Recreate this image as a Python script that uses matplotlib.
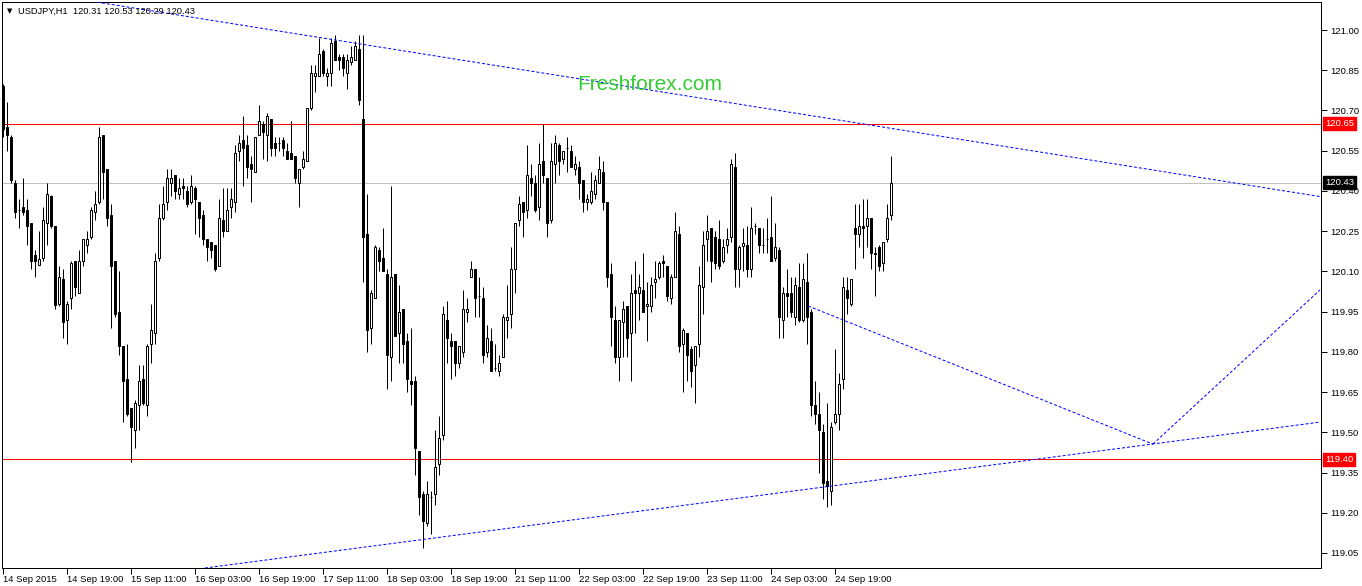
import numpy as np
import matplotlib
matplotlib.use("Agg")
import matplotlib.pyplot as plt


# USDJPY H1 candles (open, high, low, close)
opens = [
    120.79, 120.64, 120.60, 120.43, 120.33, 120.34, 120.33, 120.28, 120.16, 120.125,
    120.15, 120.28, 120.38, 120.27, 119.98, 120.07, 119.92, 120.00, 120.14, 120.02,
    120.14, 120.20, 120.23, 120.32, 120.36, 120.61, 120.48, 120.31, 120.14, 119.95,
    119.82, 119.70, 119.59, 119.51, 119.60, 119.70, 119.60, 119.83, 119.87, 120.15,
    120.30, 120.36, 120.43, 120.46, 120.39, 120.42, 120.40, 120.36, 120.41, 120.36,
    120.31, 120.22, 120.21, 120.20, 120.12, 120.29, 120.25, 120.34, 120.36, 120.55,
    120.59, 120.57, 120.50, 120.47, 120.61, 120.65, 120.61, 120.67, 120.58, 120.58,
    120.59, 120.55, 120.54, 120.53, 120.43, 120.49, 120.51, 120.71, 120.83, 120.83,
    120.92, 120.83, 120.84, 120.96, 120.90, 120.90, 120.84, 120.88, 120.89, 120.93,
    120.67, 120.24, 119.89, 120.00, 120.18, 120.15, 120.09, 119.78, 120.09, 119.87,
    119.96, 119.84, 119.69, 119.69, 119.43, 119.27, 119.16, 119.26, 119.27, 119.38,
    119.49, 119.92, 119.84, 119.84, 119.76, 119.80, 119.95, 120.08, 120.11, 120.01,
    120.00, 119.80, 119.84, 119.74, 119.73, 119.78, 119.92, 119.94, 120.11, 120.29,
    120.36, 120.33, 120.45, 120.43, 120.34, 120.51, 120.45, 120.29, 120.50, 120.57,
    120.52, 120.56, 120.55, 120.48, 120.49, 120.44, 120.36, 120.36, 120.39, 120.43,
    120.47, 120.36, 120.09, 119.92, 119.78, 119.91, 119.97, 119.87, 120.03, 120.02,
    120.03, 119.97, 119.97, 120.06, 120.08, 120.14, 120.12, 120.00, 120.08, 120.24,
    119.83, 119.87, 119.81, 119.75, 119.83, 120.04, 120.22, 120.26, 120.23, 120.22,
    120.14, 120.20, 120.23, 120.49, 120.11, 120.195, 120.20, 120.11, 120.27, 120.26,
    120.20, 120.22, 120.23, 120.15, 120.18, 119.92, 120.02, 120.02, 119.93, 120.04,
    119.92, 120.06, 119.95, 119.60, 119.57, 119.50, 119.32, 119.28, 119.54, 119.57,
    119.70, 120.03, 119.98, 120.26, 120.24, 120.27, 120.27, 120.30, 120.17, 120.19,
    120.13, 120.22, 120.31,
]
highs = [
    120.80, 120.73, 120.61, 120.44, 120.37, 120.45, 120.37, 120.28, 120.18, 120.25,
    120.34, 120.43, 120.385, 120.27, 120.12, 120.11, 119.99, 120.14, 120.14, 120.18,
    120.22, 120.25, 120.34, 120.40, 120.64, 120.61, 120.48, 120.35, 120.14, 120.10,
    119.82, 119.83, 119.59, 119.62, 119.75, 119.75, 119.83, 119.98, 120.17, 120.35,
    120.42, 120.48, 120.48, 120.46, 120.45, 120.45, 120.42, 120.46, 120.42, 120.36,
    120.33, 120.22, 120.21, 120.20, 120.37, 120.41, 120.41, 120.41, 120.57, 120.61,
    120.68, 120.61, 120.53, 120.60, 120.72, 120.66, 120.69, 120.67, 120.60, 120.60,
    120.60, 120.58, 120.66, 120.53, 120.48, 120.55, 120.71, 120.87, 120.87, 120.97,
    120.93, 120.86, 120.97, 120.98, 120.91, 120.91, 120.91, 120.94, 120.96, 120.98,
    120.98, 120.39, 120.03, 120.20, 120.19, 120.26, 120.11, 120.42, 120.09, 120.05,
    119.96, 119.87, 119.89, 119.71, 119.43, 119.28, 119.32, 119.28, 119.51, 119.56,
    119.97, 119.99, 119.87, 119.84, 119.82, 120.03, 120.00, 120.14, 120.11, 120.08,
    120.04, 119.90, 119.89, 119.83, 119.79, 119.94, 120.05, 120.19, 120.28, 120.38,
    120.36, 120.57, 120.50, 120.46, 120.58, 120.65, 120.45, 120.58, 120.61, 120.58,
    120.55, 120.60, 120.57, 120.53, 120.51, 120.44, 120.39, 120.47, 120.46, 120.53,
    120.51, 120.36, 120.13, 119.97, 119.92, 119.99, 119.97, 120.09, 120.14, 120.09,
    120.17, 120.06, 120.08, 120.14, 120.14, 120.16, 120.12, 120.09, 120.32, 120.27,
    119.89, 119.87, 119.82, 119.82, 120.12, 120.25, 120.31, 120.26, 120.25, 120.29,
    120.22, 120.26, 120.52, 120.54, 120.20, 120.26, 120.27, 120.34, 120.28, 120.26,
    120.26, 120.30, 120.38, 120.28, 120.19, 120.04, 120.11, 120.08, 120.08, 120.13,
    120.13, 120.17, 119.96, 119.69, 119.65, 119.53, 119.61, 119.54, 119.81, 119.72,
    120.08, 120.08, 120.07, 120.35, 120.35, 120.37, 120.37, 120.30, 120.19, 120.20,
    120.21, 120.35, 120.53,
]
lows = [
    120.60, 120.55, 120.43, 120.30, 120.26, 120.31, 120.20, 120.11, 120.08, 120.125,
    120.14, 120.20, 120.26, 119.96, 119.97, 119.85, 119.83, 119.96, 120.01, 120.02,
    120.12, 120.17, 120.22, 120.29, 120.35, 120.37, 120.27, 119.89, 119.93, 119.79,
    119.54, 119.56, 119.39, 119.44, 119.51, 119.60, 119.56, 119.76, 119.83, 120.14,
    120.29, 120.33, 120.38, 120.37, 120.37, 120.37, 120.34, 120.35, 120.24, 120.23,
    120.20, 120.14, 120.15, 120.10, 120.12, 120.23, 120.25, 120.30, 120.32, 120.51,
    120.42, 120.45, 120.36, 120.47, 120.61, 120.52, 120.51, 120.53, 120.53, 120.55,
    120.53, 120.52, 120.52, 120.43, 120.34, 120.48, 120.51, 120.70, 120.77, 120.83,
    120.83, 120.79, 120.79, 120.89, 120.85, 120.83, 120.78, 120.87, 120.89, 120.72,
    120.06, 119.80, 119.83, 120.00, 120.10, 120.10, 119.66, 119.69, 119.86, 119.76,
    119.76, 119.65, 119.60, 119.34, 119.19, 119.07, 119.15, 119.12, 119.23, 119.34,
    119.47, 119.76, 119.70, 119.71, 119.74, 119.78, 119.91, 120.08, 119.93, 119.93,
    119.76, 119.78, 119.73, 119.73, 119.71, 119.78, 119.85, 119.89, 120.02, 120.27,
    120.23, 120.30, 120.38, 120.32, 120.29, 120.43, 120.23, 120.28, 120.43, 120.46,
    120.50, 120.47, 120.49, 120.46, 120.37, 120.32, 120.33, 120.35, 120.37, 120.43,
    120.33, 120.04, 119.82, 119.76, 119.69, 119.78, 119.78, 119.69, 119.87, 119.92,
    119.95, 119.84, 119.95, 120.00, 120.07, 120.08, 119.99, 119.98, 120.08, 119.80,
    119.65, 119.69, 119.67, 119.61, 119.78, 119.94, 120.14, 120.06, 120.11, 120.11,
    120.13, 120.17, 120.21, 120.04, 120.04, 120.10, 120.08, 120.08, 120.24, 120.17,
    120.17, 120.17, 120.14, 120.14, 119.85, 119.85, 119.93, 119.93, 119.90, 119.91,
    119.91, 119.83, 119.56, 119.53, 119.35, 119.25, 119.22, 119.23, 119.53, 119.51,
    119.66, 119.94, 119.97, 120.11, 120.19, 120.15, 120.19, 120.11, 120.01, 120.10,
    120.10, 120.21, 120.29,
]
closes = [
    120.63, 120.61, 120.44, 120.32, 120.33, 120.32, 120.27, 120.14, 120.14, 120.145,
    120.29, 120.39, 120.27, 119.975, 120.08, 119.91, 119.98, 120.13, 120.04, 120.14,
    120.22, 120.22, 120.33, 120.35, 120.60, 120.47, 120.30, 120.12, 119.94, 119.82,
    119.69, 119.57, 119.52, 119.61, 119.69, 119.61, 119.82, 119.88, 120.14, 120.30,
    120.35, 120.45, 120.45, 120.40, 120.41, 120.41, 120.35, 120.42, 120.37, 120.30,
    120.22, 120.19, 120.18, 120.11, 120.30, 120.25, 120.33, 120.37, 120.54, 120.58,
    120.56, 120.49, 120.48, 120.60, 120.66, 120.62, 120.68, 120.56, 120.56, 120.58,
    120.56, 120.52, 120.52, 120.45, 120.48, 120.52, 120.71, 120.84, 120.84, 120.91,
    120.84, 120.84, 120.95, 120.89, 120.89, 120.86, 120.89, 120.90, 120.94, 120.74,
    120.23, 119.88, 120.02, 120.19, 120.14, 120.10, 119.79, 120.08, 119.86, 119.95,
    119.83, 119.70, 119.68, 119.44, 119.26, 119.17, 119.27, 119.26, 119.37, 119.48,
    119.94, 119.85, 119.82, 119.76, 119.82, 119.96, 119.96, 120.11, 120.00, 120.01,
    119.79, 119.85, 119.73, 119.74, 119.76, 119.93, 119.93, 120.11, 120.28, 120.35,
    120.32, 120.46, 120.43, 120.33, 120.50, 120.46, 120.28, 120.51, 120.58, 120.51,
    120.55, 120.56, 120.49, 120.50, 120.43, 120.36, 120.37, 120.40, 120.44, 120.48,
    120.36, 120.08, 119.93, 119.78, 119.92, 119.96, 119.85, 120.02, 120.02, 120.04,
    119.95, 119.98, 120.05, 120.07, 120.13, 120.13, 120.01, 120.08, 120.25, 119.82,
    119.88, 119.79, 119.73, 119.82, 120.05, 120.20, 120.25, 120.14, 120.13, 120.12,
    120.19, 120.22, 120.50, 120.11, 120.19, 120.205, 120.11, 120.26, 120.27, 120.20,
    120.20, 120.22, 120.14, 120.19, 119.93, 120.02, 120.01, 119.95, 120.05, 119.92,
    120.07, 119.93, 119.60, 119.57, 119.51, 119.31, 119.30, 119.52, 119.57, 119.68,
    120.04, 120.00, 120.07, 120.24, 120.27, 120.26, 120.30, 120.17, 120.165, 120.12,
    120.21, 120.30, 120.43,
]

date_labels = [
    "14 Sep 2015", "14 Sep 19:00", "15 Sep 11:00", "16 Sep 03:00", "16 Sep 19:00",
    "17 Sep 11:00", "18 Sep 03:00", "18 Sep 19:00", "21 Sep 11:00", "22 Sep 03:00",
    "22 Sep 19:00", "23 Sep 11:00", "24 Sep 03:00", "24 Sep 19:00",
]
price_ticks = [121.00, 120.85, 120.70, 120.55, 120.40, 120.25, 120.10,
               119.95, 119.80, 119.65, 119.50, 119.35, 119.20, 119.05]

level_lines = [120.65, 119.40]
bid_price = 120.43

# trend lines as (bar index, price) anchor pairs
trend_lines = [
    ([23.4, 329.2], [121.104, 120.379]),
    ([50.4, 329.2], [118.994, 119.538]),
    ([201.2, 287.4], [119.971, 119.456]),
    ([287.4, 329.2], [119.456, 120.031]),
]

W, H = 1362, 586
fig = plt.figure(figsize=(W / 100, H / 100), dpi=100)
ax = fig.add_axes([2 / W, 18 / H, (1321 - 2) / W, (568 - 2) / H])

px = 0.72  # one pixel in points
FONT = "Liberation Sans"

o = np.array(opens)
h = np.array(highs)
l = np.array(lows)
c = np.array(closes)
x = np.arange(len(o))
bull = c >= o

# wicks first, bodies on top so white bodies hide the wick
ax.vlines(x, l, h, color="black", linewidth=px, zorder=2)
bottoms = np.minimum(o, c)
heights = np.abs(c - o)
face = np.where(bull, "white", "black")
ax.bar(x, heights, width=0.5, bottom=bottoms, color=face,
       edgecolor="black", linewidth=px, zorder=3)

for lvl in level_lines:
    ax.axhline(lvl, color="red", linewidth=px, zorder=1)
ax.axhline(bid_price, color="#c0c0c0", linewidth=px, zorder=1)

for xs, ys in trend_lines:
    ax.plot(xs, ys, color="blue", linewidth=px, linestyle=(0, (3, 2)), zorder=4)

ax.set_xlim((2 - 3.3) / 4, (1321 - 3.3) / 4)
ax.set_ylim(121.0 - 538 / 268.2, 121.0 + 28 / 268.2)

ax.yaxis.tick_right()
ax.set_yticks(price_ticks)
ax.set_yticklabels([f"{p:.2f}" for p in price_ticks])
ax.tick_params(axis="y", direction="out", length=4, width=px, pad=2.5,
               labelsize=6.8, colors="black")

ax.set_xticks(np.arange(len(date_labels)) * 16)
ax.set_xticklabels(date_labels)
ax.tick_params(axis="x", direction="out", length=4, width=px, pad=1,
               labelsize=6.8)
for lab in ax.get_xticklabels():
    lab.set_horizontalalignment("left")
    lab.set_family(FONT)
for lab in ax.get_yticklabels():
    lab.set_family(FONT)

for sp in ax.spines.values():
    sp.set_linewidth(px)
    sp.set_color("black")

# price tags on the right scale
tags = [(120.65, "red"), (119.40, "red"), (bid_price, "black")]
for price, bg in tags:
    ax.text(1.003, price, f"{price:.2f}", transform=ax.get_yaxis_transform(),
            ha="left", va="center", fontsize=6.8, family=FONT,
            color="white", zorder=10, clip_on=False,
            bbox=dict(boxstyle="square,pad=0.2", fc=bg, ec=bg))

# header
fig.text(10 / W, 1 - 11 / H, "\u25bc", fontsize=5, ha="center", va="center")
fig.text(18 / W, 1 - 11 / H, "USDJPY,H1  120.31 120.53 120.29 120.43",
         fontsize=6.7, family=FONT, ha="left", va="center")

fig.text(650 / W, 1 - 84 / H, "Freshforex.com", fontsize=15,
         family=FONT, color="#33cc33", ha="center", va="center", zorder=5)

fig.savefig("out.png", dpi=100)
